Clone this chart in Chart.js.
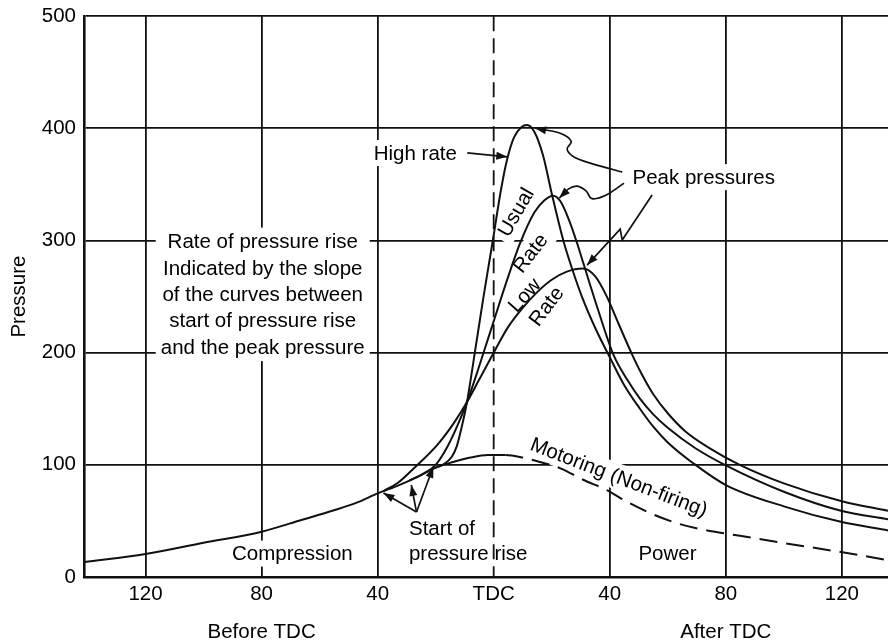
<!DOCTYPE html>
<html>
<head>
<meta charset="utf-8">
<script src="https://cdn.jsdelivr.net/npm/chart.js@4.4.1/dist/chart.umd.min.js"></script>
<style>
  html, body { margin: 0; padding: 0; background: #fff; }
  #wrap { width: 888px; height: 643px; }
</style>
</head>
<body>
<div id="wrap"><canvas id="c" width="888" height="643"></canvas></div>
<script>
// Crank angle in degrees (negative = before TDC) and cylinder pressure.
const motoringAngle    = [-141, -120, -100, -80, -66, -55, -47, -40, -33, -26, -20, -14, -8, -2, 4, 10, 16, 23, 31, 39, 46, 55, 64, 73, 80, 100, 119, 136];
const motoringPressure = [13.4, 20.5, 30.5, 40.4, 51, 59.5, 66.5, 74.6, 81.5, 89.5, 97.5, 102.5, 106.5, 108.7, 108.7, 106.5, 102.5, 96.9, 86.5, 77.5, 67, 55.8, 47.3, 41.8, 38.8, 30.3, 22.5, 15];

const highAngle    = [-21, -17, -14.5, -12.8, -11, -9.2, -6.5, -3.5, -0.3, 2.5, 4.6, 7, 9.5, 11.5, 14, 17, 20, 24, 27, 30.4, 35, 40, 45, 50.4, 55, 60, 69, 80, 100, 120, 136];
const highPressure = [96.3, 101, 107, 116, 134, 156, 200, 250, 300, 345, 372, 392, 401, 403, 397, 376, 342, 300, 275, 250, 222, 196, 171, 150, 134, 120, 101, 82, 63, 49, 41.5];

const usualAngle    = [-29, -24, -20, -16, -12.5, -9.2, -6, -3, 0, 4, 9, 14, 17.5, 20.5, 23, 26, 28.7, 31, 36, 41.3, 46, 50.4, 55, 60, 69.4, 80, 100, 120, 136];
const usualPressure = [86.1, 92.5, 100, 116, 135, 156, 180, 204, 228, 260, 297, 325, 336, 340, 335, 318, 298, 279, 238, 198, 176, 159, 145, 133, 115, 99.5, 76, 58.8, 51.5];

const lowAngle    = [-38, -33, -27.5, -19.5, -13.8, -9.2, -5, 0, 5, 10, 15, 20, 25, 30.7, 35, 39, 43, 47.6, 51, 55, 60, 66, 74.5, 84.8, 100, 120, 136];
const lowPressure = [76.6, 84, 97, 117.6, 137, 156, 176, 200, 223, 240, 254, 265, 272, 275, 268, 250, 226, 199, 181, 163, 146, 130, 114.7, 100, 83.5, 67.5, 59];

const xTickAngles = [-120, -80, -40, 0, 40, 80, 120];
const yTickValues = [0, 100, 200, 300, 400, 500];
const xRange = [-141.2, 135.9];
const yRange = [0, 500];

const FONT = '"Liberation Sans", Arial, Helvetica, sans-serif';
const INK = '#111';

// Text notes placed in data units (angle, pressure)
const textNotes = [
  { lines: ['High rate'], x: -27, y: 378 },
  { lines: ['Peak pressures'], x: 72.4, y: 356.5 },
  { lines: ['Rate of pressure rise', 'Indicated by the slope', 'of the curves between', 'start of pressure rise', 'and the peak pressure'], x: -79.6, y: 252, gap: 26.3 },
  { lines: ['Usual'], x: 7.6, y: 325.3, rot: -60 },
  { lines: ['Rate'], x: 12.6, y: 288.8, rot: -52 },
  { lines: ['Low'], x: 10.6, y: 251.3, rot: -48 },
  { lines: ['Rate'], x: 18.1, y: 241.5, rot: -53 },
  { lines: ['Motoring (Non-firing)'], x: 43.2, y: 89.1, rot: 21 },
  { lines: ['Start of', 'pressure rise'], x: -29.2, y: 32.05, align: 'left', gap: 25 },
  { lines: ['Compression'], x: -69.4, y: 20.9 },
  { lines: ['Power'], x: 59.9, y: 20.9 }
];

// Pointer lines (data units); the arrowhead sits on the last point
const pointers = [
  { pts: [[-9.1, 378.2], [4.7, 374.6]] },
  { pts: [[44.3, 361], [33.3, 369], [27.8, 374.3], [25.3, 381.5], [26.7, 388.6], [22.9, 395.7], [14.3, 400.2]], smooth: true },
  { pts: [[44.9, 351.2], [38.8, 340.5], [33.9, 337.3], [31.9, 344], [28.8, 348.5], [25.7, 345.8], [22.6, 337.8]], smooth: true },
  { pts: [[54.6, 340.5], [44.3, 300.4], [43.6, 310.2], [32.2, 278.1]] },
  { pts: [[-26.6, 57.9], [-38, 74.9]] },
  { pts: [[-26.6, 57.9], [-28.4, 82]] },
  { pts: [[-26.6, 57.9], [-20.8, 98.3]] }
];

const axisTitles = [
  { text: 'Before TDC', x: -80 },
  { text: 'After TDC', x: 80 }
];

const toXY = (xs, ys) => xs.map((v, i) => ({ x: v, y: ys[i] }));

function smoothPath(ctx, p) {
  ctx.moveTo(p[0][0], p[0][1]);
  let last = p[0];
  for (let i = 0; i < p.length - 1; i++) {
    const p0 = p[i - 1] || p[i], p1 = p[i], p2 = p[i + 1], p3 = p[i + 2] || p2;
    const c1 = [p1[0] + (p2[0] - p0[0]) / 6, p1[1] + (p2[1] - p0[1]) / 6];
    const c2 = [p2[0] - (p3[0] - p1[0]) / 6, p2[1] - (p3[1] - p1[1]) / 6];
    ctx.bezierCurveTo(c1[0], c1[1], c2[0], c2[1], p2[0], p2[1]);
    last = c2;
  }
  return last;
}

function arrowHead(ctx, from, to) {
  const a = Math.atan2(to[1] - from[1], to[0] - from[0]);
  const len = 11, half = 4;
  ctx.beginPath();
  ctx.moveTo(to[0], to[1]);
  ctx.lineTo(to[0] - len * Math.cos(a) + half * Math.sin(a), to[1] - len * Math.sin(a) - half * Math.cos(a));
  ctx.lineTo(to[0] - len * Math.cos(a) - half * Math.sin(a), to[1] - len * Math.sin(a) + half * Math.cos(a));
  ctx.closePath();
  ctx.fill();
}

const notesPlugin = {
  id: 'notes',
  beforeDatasetsDraw(chart) {
    const { ctx, chartArea } = chart;
    const xs = chart.scales.x, ys = chart.scales.y;
    ctx.save();
    ctx.font = `20.5px ${FONT}`;
    ctx.textBaseline = 'middle';
    for (const n of textNotes) {
      const px = xs.getPixelForValue(n.x), py = ys.getPixelForValue(n.y);
      const gap = n.gap || 24;
      const w = Math.max(...n.lines.map(l => ctx.measureText(l).width));
      const h = gap * n.lines.length;
      const align = n.align || 'center';
      const left = align === 'left' ? 0 : -w / 2;
      ctx.save();
      ctx.translate(px, py);
      ctx.rotate((n.rot || 0) * Math.PI / 180);
      ctx.fillStyle = '#fff';
      ctx.fillRect(left - 5, -h / 2 - 1, w + 10, h + 2);
      ctx.fillStyle = '#000';
      ctx.textAlign = align;
      n.lines.forEach((l, i) => ctx.fillText(l, 0, -h / 2 + gap * (i + 0.5) + 1));
      ctx.restore();
    }
    // dashed TDC line
    const tx = xs.getPixelForValue(0);
    ctx.strokeStyle = INK;
    ctx.lineWidth = 1.8;
    ctx.setLineDash([15, 7]);
    ctx.beginPath();
    ctx.moveTo(tx, chartArea.top);
    ctx.lineTo(tx, chartArea.bottom);
    ctx.stroke();
    ctx.restore();
  },
  afterDatasetsDraw(chart) {
    const { ctx } = chart;
    const xs = chart.scales.x, ys = chart.scales.y;
    ctx.save();
    ctx.strokeStyle = INK;
    ctx.fillStyle = INK;
    ctx.lineWidth = 1.7;
    for (const p of pointers) {
      const pts = p.pts.map(([a, b]) => [xs.getPixelForValue(a), ys.getPixelForValue(b)]);
      ctx.beginPath();
      let from;
      if (p.smooth) {
        from = smoothPath(ctx, pts);
      } else {
        ctx.moveTo(pts[0][0], pts[0][1]);
        for (let i = 1; i < pts.length; i++) ctx.lineTo(pts[i][0], pts[i][1]);
        from = pts[pts.length - 2];
      }
      ctx.stroke();
      arrowHead(ctx, from, pts[pts.length - 1]);
    }
    ctx.restore();
  },
  afterDraw(chart) {
    const { ctx } = chart;
    const xs = chart.scales.x;
    ctx.save();
    ctx.font = `20.5px ${FONT}`;
    ctx.fillStyle = '#000';
    ctx.textAlign = 'center';
    ctx.textBaseline = 'middle';
    for (const t of axisTitles) ctx.fillText(t.text, xs.getPixelForValue(t.x), 632);
    ctx.restore();
  }
};

const curveStyle = {
  showLine: true,
  borderColor: INK,
  borderWidth: 2,
  pointRadius: 0,
  cubicInterpolationMode: 'monotone',
  fill: false
};

new Chart(document.getElementById('c'), {
  type: 'scatter',
  data: {
    datasets: [
      Object.assign({ label: 'Motoring (Non-firing)', data: toXY(motoringAngle, motoringPressure),
        segment: { borderDash: c => (c.p0.parsed.x >= 4 ? [18, 9] : undefined) } }, curveStyle),
      Object.assign({ label: 'High rate', data: toXY(highAngle, highPressure) }, curveStyle),
      Object.assign({ label: 'Usual rate', data: toXY(usualAngle, usualPressure) }, curveStyle),
      Object.assign({ label: 'Low rate', data: toXY(lowAngle, lowPressure) }, curveStyle)
    ]
  },
  options: {
    responsive: false,
    animation: false,
    devicePixelRatio: 1,
    layout: { padding: { top: 16, left: 0, right: 0, bottom: 0 } },
    plugins: { legend: { display: false }, tooltip: { enabled: false } },
    scales: {
      x: {
        type: 'linear',
        min: xRange[0],
        max: xRange[1],
        afterBuildTicks: s => { s.ticks = xTickAngles.map(v => ({ value: v })); },
        afterFit: s => { s.height = 66; },
        grid: {
          color: c => (c.tick && c.tick.value === 0 ? 'rgba(0,0,0,0)' : INK),
          lineWidth: 1.8,
          drawTicks: false
        },
        border: { color: INK, width: 2.6 },
        ticks: {
          color: '#000',
          padding: 5,
          maxRotation: 0,
          autoSkip: false,
          font: { family: FONT, size: 20.5 },
          callback: v => (v === 0 ? 'TDC' : String(Math.abs(v)))
        }
      },
      y: {
        type: 'linear',
        min: yRange[0],
        max: yRange[1],
        afterBuildTicks: s => { s.ticks = yTickValues.map(v => ({ value: v })); },
        afterFit: s => { s.width = 84; },
        grid: { color: INK, lineWidth: 1.8, drawTicks: false },
        border: { color: INK, width: 2.6 },
        title: {
          display: true,
          text: 'Pressure',
          color: '#000',
          font: { family: FONT, size: 20.5 },
          padding: { top: 7, bottom: 0 }
        },
        ticks: {
          color: '#000',
          padding: 8,
          font: { family: FONT, size: 20.5, lineHeight: 0.8 }
        }
      }
    }
  },
  plugins: [notesPlugin]
});
</script>
</body>
</html>
